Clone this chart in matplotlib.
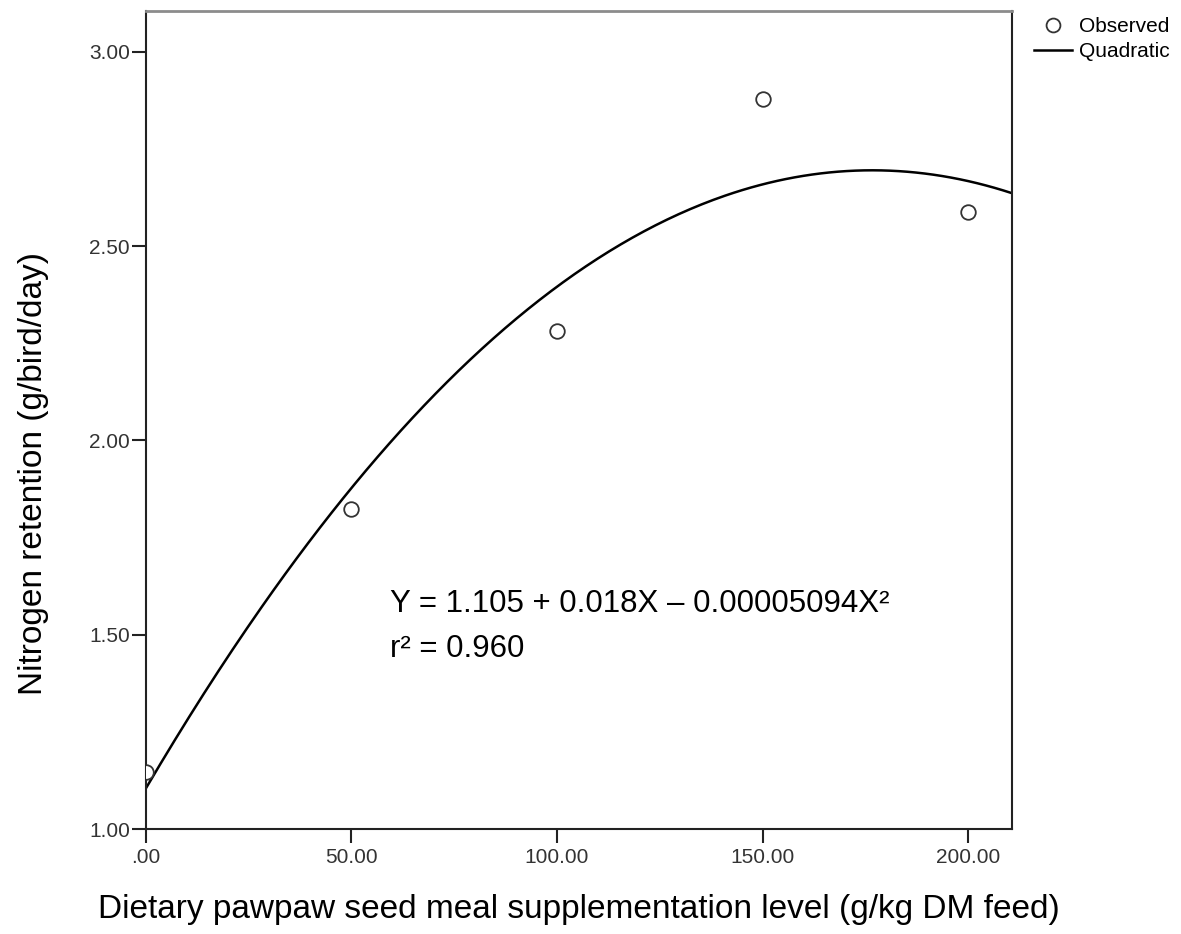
import matplotlib
matplotlib.use('Agg')
from matplotlib import pyplot as plt
from matplotlib.ticker import FuncFormatter
import numpy as np

plt.rcParams['font.family'] = ['Liberation Sans', 'DejaVu Sans']

levels = [0, 50, 100, 150, 200]
retention = [1.147, 1.823, 2.281, 2.879, 2.588]

# quadratic coefficients as printed on the chart (c0, c1, c2)
quad_coef = [1.105, 0.018, -0.00005094]

x_ticks = [0, 50, 100, 150, 200]
y_ticks = [1.0, 1.5, 2.0, 2.5, 3.0]

equation = 'Y = 1.105 + 0.018X \u2013 0.00005094X\u00b2'
r_squared = 'r\u00b2 = 0.960'

fig = plt.figure(figsize=(11.81, 9.34), dpi=100)
ax = fig.add_axes([0.1236, 0.1124, 0.7330, 0.8758])

xs = np.linspace(0, 210.6, 300)
ys = np.polyval(quad_coef[::-1], xs)

ax.plot(levels, retention, linestyle='none', marker='o', markersize=10.5,
        markerfacecolor='white', markeredgecolor='#333333', markeredgewidth=1.3,
        label='Observed', zorder=3)
ax.plot(xs, ys, color='black', lw=1.8, label='Quadratic', zorder=2)

ax.set_xlim(0, 210.6)
ax.set_ylim(1.0, 3.105)

ax.set_xticks(x_ticks)
ax.set_yticks(y_ticks)

def fmt(v, pos):
    s = f'{v:.2f}'
    if s.startswith('0.'):
        s = s[1:]
    return s

ax.xaxis.set_major_formatter(FuncFormatter(fmt))
ax.yaxis.set_major_formatter(FuncFormatter(fmt))

ax.tick_params(axis='both', direction='out', length=10, width=1.5,
               color='#222222', labelsize=15, labelcolor='#333333')
ax.tick_params(axis='y', pad=1.5)
ax.tick_params(axis='x', pad=4)

for side in ['left', 'bottom', 'right']:
    ax.spines[side].set_color('#222222')
    ax.spines[side].set_linewidth(1.5)
ax.spines['top'].set_color('#8c8c8c')
ax.spines['top'].set_linewidth(2)

ax.set_xlabel('Dietary pawpaw seed meal supplementation level (g/kg DM feed)', fontsize=24)
ax.set_ylabel('Nitrogen retention (g/bird/day)', fontsize=24)
ax.xaxis.set_label_coords(0.5, -0.08)
ax.yaxis.set_label_coords(-0.112, 0.435)

ax.text(59.4, 1.558, equation, fontsize=22.5, va='baseline', ha='left')
ax.text(59.4, 1.443, r_squared, fontsize=22.5, va='baseline', ha='left')

leg = ax.legend(loc='upper left', bbox_to_anchor=(1034 / 1181, 1 - 17 / 934),
                bbox_transform=fig.transFigure, frameon=False, fontsize=15,
                borderpad=0, borderaxespad=0, handlelength=1.8,
                handletextpad=0.35, labelspacing=0.3, markerscale=0.95)

plt.savefig('out.png', dpi=100)
plt.close()
